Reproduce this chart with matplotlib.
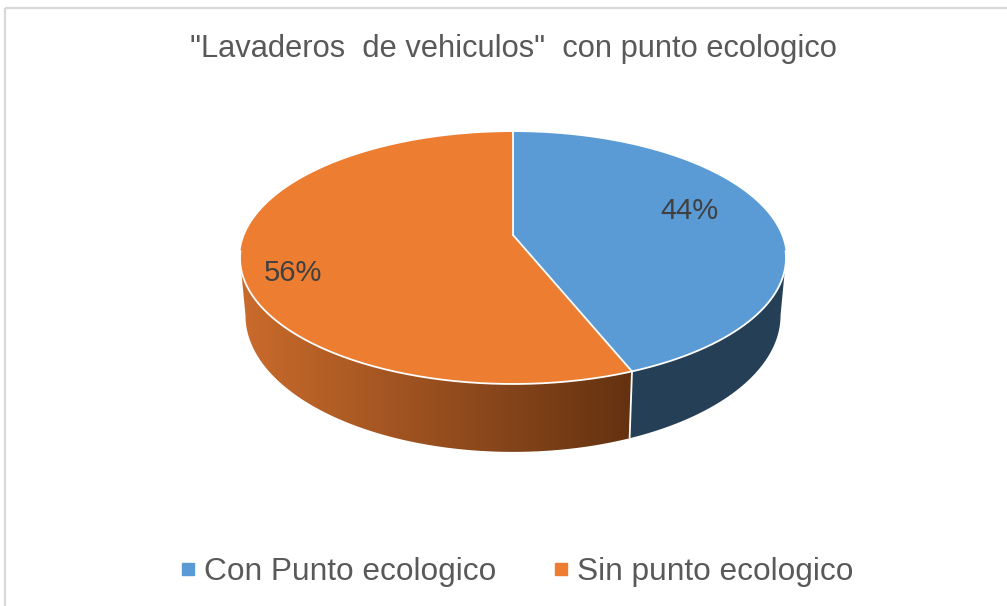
import numpy as np
import matplotlib
matplotlib.use("Agg")
import matplotlib.pyplot as plt
from matplotlib.patches import Polygon
from matplotlib.lines import Line2D
from matplotlib.colors import to_rgb

# ---- data ----
categories = ["Con Punto ecologico", "Sin punto ecologico"]
values = [44, 56]
title = "\"Lavaderos  de vehiculos\"  con punto ecologico"

top_colors = ["#5B9BD5", "#ED7D31"]
side_blue = "#243F56"
side_orange_left = "#CA6B2C"
side_orange_right = "#643211"

plt.rcParams['font.family'] = ['Liberation Sans', 'DejaVu Sans']

W, H = 1007, 606
fig = plt.figure(figsize=(W / 100, H / 100), dpi=100)
ax = fig.add_axes([0, 0, 1, 1])
ax.set_xlim(0, W)
ax.set_ylim(H, 0)
ax.axis('off')

# ---- 3D projection parameters (layout) ----
cx, cy0 = 513.0, 235.0
A, B, k = 268.4, 121.8, 0.1825
D = 55.5
shrink = 0.98


def proj(theta_deg, rho=1.0, z=0.0):
    t = np.radians(theta_deg)
    u = rho * np.cos(t)
    v = rho * np.sin(t)
    w = 1 + k * v
    x = cx + A * u / w
    y = cy0 - B * v / w + z / w
    if z:
        x = cx + (x - cx) * shrink
    return np.column_stack([x, y]) if np.ndim(x) else np.array([x, y])


total = float(sum(values))
fracs = [v / total for v in values]
start = 90.0
angles = []
a = start
for f in fracs:
    angles.append((a, a - 360 * f))
    a = a - 360 * f

split = angles[0][1]
theta_r = -np.degrees(np.arcsin(k))
theta_l = -180 - theta_r


def side_poly(a0, a1):
    th = np.linspace(a0, a1, 200)
    top = proj(th)
    bot = proj(th[::-1], z=D)
    return np.vstack([top, bot])


# sides
blue_side = side_poly(max(split, theta_l), theta_r)
ax.add_patch(Polygon(blue_side, closed=True, facecolor=side_blue,
                     edgecolor='none', zorder=1))

orange_side = side_poly(theta_l, split)
clip = Polygon(orange_side, closed=True, facecolor='none', edgecolor='none')
ax.add_patch(clip)
x0, x1 = orange_side[:, 0].min(), orange_side[:, 0].max()
y0, y1 = orange_side[:, 1].min(), orange_side[:, 1].max()
cl, cr = np.array(to_rgb(side_orange_left)), np.array(to_rgb(side_orange_right))
tgrid = np.linspace(0, 1, 256)
grad = (cl[None, :] * (1 - tgrid[:, None]) + cr[None, :] * tgrid[:, None])[None, :, :]
im = ax.imshow(grad, extent=(x0, x1, y1, y0), aspect='auto', zorder=1,
               interpolation='bilinear')
im.set_clip_path(clip)

# split line on side
p_top = proj(split)
p_bot = proj(split, z=D)
ax.plot([p_top[0], p_bot[0]], [p_top[1], p_bot[1]], color='white', lw=1.3,
        zorder=2, solid_capstyle='butt')

# top faces
apex = proj(0, rho=0.0)
for (a0, a1), col in zip(angles, top_colors):
    th = np.linspace(a0, a1, 300)
    pts = np.vstack([apex, proj(th)])
    ax.add_patch(Polygon(pts, closed=True, facecolor=col, edgecolor='none',
                         zorder=3))

# white outline on front edge of top face and slice boundaries
th = np.linspace(theta_l - 3, theta_r + 3, 300)
front = proj(th)
ax.plot(front[:, 0], front[:, 1], color='white', lw=1.3, zorder=4)
for a0, _ in angles:
    p = proj(a0)
    ax.plot([apex[0], p[0]], [apex[1], p[1]], color='white', lw=1.3, zorder=4)

# data labels
label_pos = [(689, 211), (293, 273)]
for (lx, ly), v in zip(label_pos, values):
    ax.text(lx, ly, f"{v}%", ha='center', va='center', fontsize=21,
            color='#404040', zorder=5)

# title
ax.text(513, 49, title, ha='center', va='center', fontsize=22.2,
        color='#595959')

# legend
handles = [Line2D([], [], marker='s', linestyle='', markersize=8,
                  markerfacecolor=c, markeredgecolor=c) for c in top_colors]
leg = ax.legend(handles, categories, loc='center',
                bbox_to_anchor=(516 / W, 1 - 572 / H), ncol=2, frameon=False,
                fontsize=22.8, handlelength=0.6, handletextpad=0.2,
                columnspacing=1.75, borderpad=0)
for t in leg.get_texts():
    t.set_color('#595959')

# chart border
ax.plot([5, W], [8, 8], color='#D9D9D9', lw=1.6, solid_capstyle='butt')
ax.plot([5, 5], [8, H], color='#D9D9D9', lw=1.6, solid_capstyle='butt')

ax.set_xlim(0, W)
ax.set_ylim(H, 0)
fig.savefig("out.png", dpi=100)
